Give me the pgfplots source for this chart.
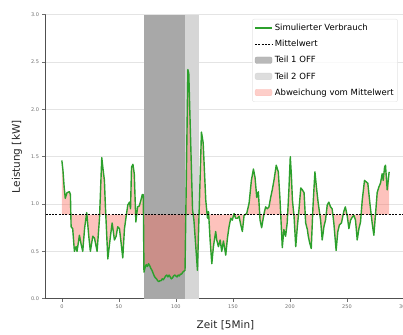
\documentclass[border=0pt]{standalone}
\usepackage{fontspec}
\setmainfont{DejaVu Sans}
\usepackage{pgfplots}
\usepackage{pgfplotstable}
\pgfplotsset{compat=1.18}
\definecolor{cgreen}{RGB}{44,160,44}
\definecolor{spanA}{RGB}{168,168,168}
\definecolor{spanB}{RGB}{214,214,214}
\definecolor{dev}{RGB}{250,110,95}
\definecolor{gridc}{RGB}{228,228,228}
\definecolor{spine}{RGB}{80,80,80}
\definecolor{tickc}{RGB}{110,110,110}

\pgfplotstableread{
x y
0 1.46
1 1.35
2 1.18
3 1.06
4.5 1.12
6.6 1.13
7.5 1.10
8.1 0.76
9.5 0.74
11 0.50
12.5 0.55
13.3 0.50
15.4 0.67
16.8 0.58
18.3 0.50
20 0.75
21.8 0.91
23.6 0.66
25 0.50
27.1 0.66
28.6 0.64
30.9 0.50
33 0.85
35 1.49
36 1.38
37.3 1.25
38.2 0.97
40.3 0.42
42.6 0.66
44.1 0.80
46.1 0.62
47.6 0.66
49 0.76
50.5 0.74
52 0.585
53.4 0.43
54.9 0.74
56.4 0.87
57.8 0.99
59.3 1.02
60.2 0.95
61.1 1.39
62.3 1.42
63.5 1.32
64.9 0.81
66.4 0.97
67.9 0.98
69.3 1.04
70.5 1.10
71.4 1.10
72 0.28
73 0.33
74 0.36
75 0.34
76 0.37
77 0.35
78 0.32
79 0.30
80 0.27
81 0.24
82 0.22
83 0.21
84 0.19
85 0.18
86 0.19
87 0.19
88 0.21
89 0.20
90 0.22
91 0.24
92 0.25
93 0.23
94 0.25
95 0.23
96 0.21
97 0.22
98 0.24
99 0.25
100 0.24
101 0.23
102 0.25
103 0.24
104 0.26
105 0.26
106 0.28
107 0.29
108 0.30
110.5 2.42
111.3 2.38
114.6 0.94
115.8 0.83
118.9 0.30
122.4 1.76
123.9 1.65
126.2 1.04
127.7 0.85
128.6 0.92
130 0.62
131.5 0.37
132.9 0.55
134.9 0.71
135.8 0.62
137.3 0.55
138.8 0.62
140.2 0.50
141.7 0.61
143.7 0.46
145.2 0.64
146.6 0.76
148.1 0.85
149.5 0.83
151 0.90
152.4 0.85
154 0.85
155.4 0.87
156.9 0.78
158.3 0.71
159.8 0.88
162.1 0.90
164.2 1.01
166.2 1.25
168 1.37
169.4 1.28
170.9 1.07
172.3 1.13
173.8 0.83
175.2 0.75
177.3 0.90
178.7 0.97
180.2 0.95
181.6 0.97
183.1 1.07
184.5 1.15
186 1.25
188 1.41
189.8 1.34
191.2 1.07
193.3 0.54
194.7 0.73
196.2 0.66
197.6 0.80
199.1 1.15
200.3 1.50
201.2 1.32
202.2 1.04
203.6 0.87
205.1 0.55
206.5 0.76
208 0.95
209.5 1.17
210.9 1.15
212.4 1.12
213.8 0.80
215.3 0.73
216.1 0.66
217.3 0.59
218.7 0.53
220.2 0.97
221.9 1.34
223.4 1.16
224.8 1.01
226.9 0.83
228.3 0.62
229.8 0.76
231.2 0.83
232.7 0.99
234.1 1.02
235.6 0.97
237 0.95
238.5 0.80
240.5 0.51
242 0.71
243.4 0.78
245.2 0.80
247.2 0.92
248.6 0.97
250.3 0.87
251.7 0.74
253.2 0.83
254.6 0.86
256.1 0.88
257.5 0.83
259 0.62
260.5 0.74
261.9 0.81
263.4 1.04
265.4 1.25
267.2 1.23
268.3 1.22
270.1 1.01
272.1 0.80
273.6 0.67
275.1 0.90
276.5 1.12
278 1.18
279.4 1.22
280.9 1.32
281.8 1.25
283 1.39
283.8 1.41
285.3 1.15
286.2 1.25
287 1.34
}\verbrauch

\begin{document}
\begin{tikzpicture}
\begin{axis}[
  at={(45.5pt,35.3pt)}, anchor=south west,
  scale only axis, width=360pt, height=284pt,
  xmin=-14.35, xmax=301.35, ymin=0, ymax=3,
  axis x line*=bottom, axis y line*=left,
  axis line style={spine, line width=0.8pt},
  xtick={0,50,...,300}, ytick={0,0.5,...,3},
  tick align=outside, major tick length=3pt,
  tick style={color=tickc, line width=0.6pt},
  ymajorgrids, grid style={gridc, line width=0.7pt},
  /pgf/number format/assume math mode=true,
  yticklabel style={/pgf/number format/fixed, /pgf/number format/precision=1, /pgf/number format/fixed zerofill},
  ticklabel style={font=\fontsize{5}{6}\selectfont, color=tickc},
  xlabel={Zeit [5Min]}, ylabel={Leistung [kW]},
  label style={font=\fontsize{10.5}{12}\selectfont, color=black!85},
  xlabel style={at={(axis description cs:0.5,0)}, anchor=center, yshift=-26.5pt},
  ylabel style={at={(axis description cs:-0.0792,0.5)}, anchor=center},
  legend style={at={(axis description cs:0.574,0.985)}, anchor=north west,
    font=\fontsize{8.5}{10}\selectfont, draw=gridc, rounded corners=2pt,
    fill=white, fill opacity=0.8, text opacity=1, row sep=4.2pt,
    inner xsep=2pt, inner ysep=3pt},
  legend cell align=left,
]
\addlegendimage{cgreen, line width=1.4pt}
\addlegendentry{Simulierter Verbrauch}
\addlegendimage{black, line width=0.9pt, dash pattern=on 2pt off 1.3pt}
\addlegendentry{Mittelwert}
\addlegendimage{legend image code/.code={\fill[spanA] (0pt,-3pt) rectangle (17pt,3.5pt);}}
\addlegendentry{Teil 1 OFF}
\addlegendimage{legend image code/.code={\fill[spanB] (0pt,-3pt) rectangle (17pt,3.5pt);}}
\addlegendentry{Teil 2 OFF}
\addlegendimage{legend image code/.code={\fill[dev!42] (0pt,-3pt) rectangle (17pt,3.5pt);}}
\addlegendentry{Abweichung vom Mittelwert}

\addplot[fill=spanA, draw=none, forget plot] coordinates {(72,3) (108,3)} \closedcycle;
\addplot[fill=spanB, draw=none, forget plot] coordinates {(108,3) (120.5,3)} \closedcycle;

\addplot[fill=dev, fill opacity=0.42, draw=none, forget plot] table {\verbrauch}
  -- (axis cs:287,0.887) -- (axis cs:0,0.887) -- cycle;
\addplot[cgreen, line width=1.4pt, line join=round, forget plot] table {\verbrauch};
\addplot[black, line width=0.9pt, dash pattern=on 2pt off 1.3pt, forget plot] coordinates {(-14.35,0.887) (301.35,0.887)};
\end{axis}
\pgfresetboundingbox
\path (0,0) rectangle (403pt,334pt);
\end{tikzpicture}
\end{document}
